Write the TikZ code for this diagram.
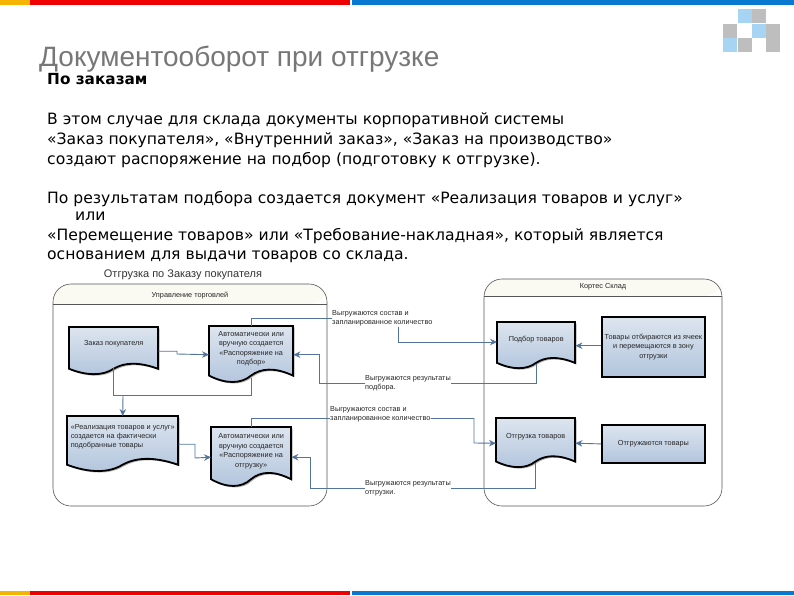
\documentclass[tikz,border=0pt]{standalone}
\usepackage{fontspec}
\setmainfont{DejaVu Sans}
\newfontfamily\arialfont{Liberation Sans}
\usetikzlibrary{arrows.meta}
\usetikzlibrary{shadows}

\definecolor{barorange}{HTML}{F5B400}
\definecolor{barred}{HTML}{EE0000}
\definecolor{barblue}{HTML}{0878D0}
\definecolor{titlegrey}{HTML}{777777}
\definecolor{boxtop}{HTML}{DDE5EF}
\definecolor{boxbottom}{HTML}{B2C5DD}
\definecolor{connblue}{HTML}{54749E}
\definecolor{lanegrey}{HTML}{555555}
\definecolor{lanetint}{HTML}{FAFAF3}
\definecolor{logoblue}{HTML}{A8D4F4}
\definecolor{logogrey}{HTML}{BEBEBE}

\tikzset{
  bodytext/.style={anchor=base west,inner sep=0pt,font=\fontsize{15.6}{18}\selectfont},
  boxshade/.style={top color=boxtop,bottom color=boxbottom,draw=black,line width=1.8pt,
    drop shadow={shadow xshift=1.5pt,shadow yshift=-1.5pt,opacity=.3,fill=black}},
  boxtext/.style={font=\arialfont\fontsize{7.3}{9.4}\selectfont,align=center,inner sep=0pt,text=black!85},
  notetext/.style={font=\arialfont\fontsize{7.3}{9.4}\selectfont,align=left,inner sep=0pt,text=black!85},
  lane/.style={draw=lanegrey,line width=.6pt,rounded corners=18pt},
  lanehead/.style={fill=lanetint,rounded corners=18pt},
  conn/.style={draw=connblue,line width=.9pt},
  arr/.style={conn,-{Stealth[length=7pt,width=6.5pt]}},
}

% name, left, top, width, height, text shift, text
\newcommand{\docnode}[7]{
  \begin{scope}[shift={(#2,#3)},x=#4pt,y=-#5pt]
    \path[boxshade] (0,0) -- (1,0) -- (1,.87) .. controls (.78,.72) and (.62,.74) .. (.5,.87) .. controls (.38,1.02) and (.2,1.02) .. (0,.87) -- cycle;
  \end{scope}
  \node[minimum width=#4pt,minimum height=#5pt,inner sep=0pt,anchor=north west,
    label={[boxtext,yshift=#6pt]center:{#7}}] (#1) at (#2,#3) {};
}

\begin{document}
\begin{tikzpicture}[x=1pt,y=-1pt]
\useasboundingbox (0,0) rectangle (794,595);

% bars
\fill[barorange] (0,0) rectangle (30,4.5);
\fill[barred] (30,0) rectangle (350,4.5);
\fill[barblue] (352,0) rectangle (794,4.5);
\fill[barorange] (0,591) rectangle (30,595);
\fill[barred] (30,591) rectangle (350,595);
\fill[barblue] (352,591) rectangle (794,595);

% logo
\foreach \x/\y/\c in {738/9/logoblue,752/9/logogrey,723/24/logogrey,752/24/logoblue,766/24/logogrey,723/38/logoblue,738/38/logogrey,766/38/logogrey}
  \fill[\c] (\x,\y) rectangle ++(13.5,13.5);

% text
\node[anchor=base west,inner sep=0pt,font=\arialfont\fontsize{28}{32}\selectfont,text=titlegrey] (title) at (39,66.5) {Документооборот при отгрузке};
\node[bodytext,font=\bfseries\fontsize{15.3}{18}\selectfont] (sub) at (47,84) {По заказам};
\node[bodytext] (l1) at (47,124) {В этом случае для склада документы корпоративной системы};
\node[bodytext] (l2) at (47,144) {«Заказ покупателя», «Внутренний заказ», «Заказ на производство»};
\node[bodytext] (l3) at (47,164) {создают распоряжение на подбор (подготовку к отгрузке).};
\node[bodytext] (l4) at (47,203.5) {По результатам подбора создается документ «Реализация товаров и услуг»};
\node[bodytext] (l5) at (75,220) {или};
\node[bodytext] (l6) at (47,240) {«Перемещение товаров» или «Требование-накладная», который является};
\node[bodytext] (l7) at (47,259.5) {основанием для выдачи товаров со склада.};

% lanes
\node[inner sep=0pt,font=\arialfont\fontsize{11}{13}\selectfont,text=black!80] (diagtitle) at (183,275) {Отгрузка по Заказу покупателя};
\fill[lanehead] (53,304) [rounded corners=18pt] -- (53,284) -- (327,284) -- (327,304) [sharp corners] -- cycle;
\fill[lanehead] (484,296) [rounded corners=18pt] -- (484,279) -- (722,279) -- (722,296) [sharp corners] -- cycle;
\draw[lane] (53,284) rectangle (327,506);
\draw[lane] (484,279) rectangle (722,506);
\draw[lanegrey,line width=.6pt] (53,304) -- (327,304);
\draw[lanegrey,line width=.6pt] (484,296) -- (722,296);
\node[boxtext] (torg) at (190,296) {Управление торговлей};
\node[boxtext] (sklad) at (603,287) {Кортес Склад};

% documents
\docnode{zakaz}{69}{327}{89}{48}{7}{Заказ покупателя}
\docnode{auto1}{209}{326}{84}{57}{6}{Автоматически или\\вручную создается\\«Распоряжение на\\подбор»}
\docnode{realiz}{67}{416}{111}{56}{7.5}{\begin{tabular}{@{}l@{}}«Реализация товаров и услуг»\\создается на фактически\\подобранные товары\end{tabular}}
\docnode{auto2}{211}{427}{80}{60}{6}{Автоматически или\\вручную создается\\«Распоряжение на\\отгрузку»}
\docnode{podbor}{497}{322}{78}{47}{6}{Подбор товаров}
\docnode{otgr}{496}{418}{79}{50}{7}{Отгрузка товаров}

% boxes
\node[boxshade,boxtext,minimum width=103pt,minimum height=60pt,inner sep=0pt,anchor=north west] (sbor) at (601,316) {Товары отбираются из ячеек\\и перемещаются в зону\\отгрузки};
\node[boxshade,boxtext,minimum width=103pt,minimum height=38pt,inner sep=0pt,anchor=north west] (otgruz) at (601,424) {Отгружаются товары};

% notes
\node[notetext,anchor=west] (noteA) at (332,318.5) {Выгружаются состав и\\запланированное количество};
\node[notetext,anchor=west] (noteB) at (365,383) {Выгружаются результаты\\подбора.};
\node[notetext,anchor=west] (noteC) at (330,414.5) {Выгружаются состав и\\запланированное количество};
\node[notetext,anchor=west] (noteD) at (365,488) {Выгружаются результаты\\отгрузки.};

\coordinate (turnA) at (177,354);
\coordinate (turnB) at (123,395);
\coordinate (turnC) at (195,458);
\coordinate (turnD) at (398,342);
\coordinate (turnE) at (319,383);
\coordinate (turnF) at (474,443);
\coordinate (turnG) at (310,488);

% connectors
\draw[arr] (zakaz.east) -| (turnA) -- (auto1.west);
\draw[conn] ([yshift=7pt]zakaz.south) |- (turnB);
\draw[conn] ([yshift=5pt]auto1.south) |- (turnB);
\draw[arr] (turnB) -- (realiz.north);
\draw[arr] (realiz.east) -| (turnC) -- (auto2.west);
\draw[conn] (auto1.north) |- (noteA.west);
\draw[arr] (noteA.south -| turnD) -- (turnD) -- (turnD -| podbor.west);
\draw[conn] ([yshift=5pt]podbor.south) |- (noteB.east);
\draw[arr] (noteB.west) -- (turnE) |- (auto1.east);
\draw[conn] (auto2.north) |- ([yshift=-4pt]noteC.west);
\draw[arr] ([yshift=-4pt]noteC.east) -| (turnF) -- (otgr.west);
\draw[conn] ([yshift=5pt]otgr.south) |- (noteD.east);
\draw[arr] (noteD.west) -- (turnG) |- (auto2.east);
\draw[arr] (sbor.west |- podbor.east) -- (podbor.east);
\draw[arr] (otgruz.west) -- (otgr.east);
\end{tikzpicture}
\end{document}
